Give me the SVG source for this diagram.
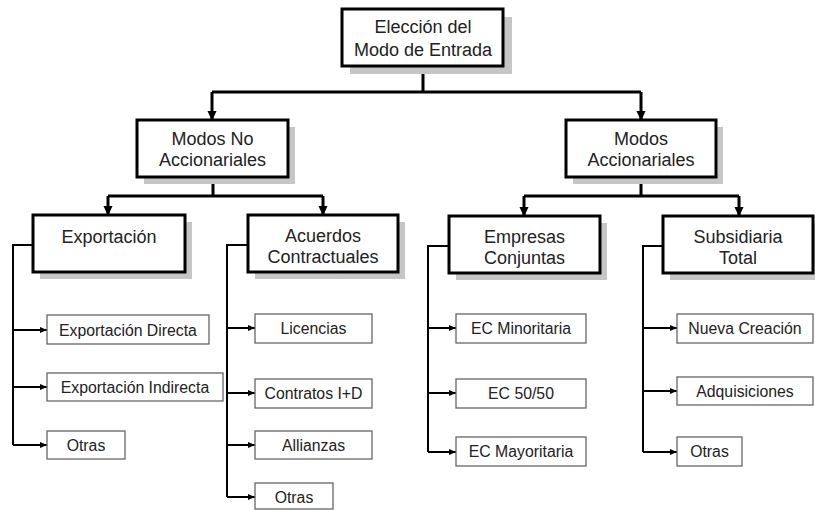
<svg xmlns="http://www.w3.org/2000/svg" width="815" height="510" viewBox="0 0 815 510">
<defs>
<style>
.bx{fill:#fff;stroke:#000;stroke-width:3}
.sh{fill:#c6c6c6}
.lf{fill:#fff;stroke:#666;stroke-width:1.3}
.t{font-family:"Liberation Sans",Arial,sans-serif;font-size:18px;fill:#222;text-anchor:middle}
.tl{font-family:"Liberation Sans",Arial,sans-serif;font-size:15.8px;fill:#222;text-anchor:middle}
.c{fill:none;stroke:#000;stroke-width:3}
.ca{fill:none;stroke:#000;stroke-width:3;marker-end:url(#ab)}
.cs{fill:none;stroke:#000;stroke-width:2}
.cl{fill:none;stroke:#000;stroke-width:2;marker-end:url(#as)}
</style>
<marker id="ab" markerUnits="userSpaceOnUse" markerWidth="10" markerHeight="10" refX="9" refY="5" orient="auto" viewBox="0 0 10 10"><path d="M0,0.5 L10,5 L0,9.5 z" fill="#000"/></marker>
<marker id="as" markerUnits="userSpaceOnUse" markerWidth="7" markerHeight="7" refX="7" refY="3.5" orient="auto" viewBox="0 0 7 7"><path d="M0,0.5 L7,3.5 L0,6.5 z" fill="#000"/></marker>
</defs>
<rect width="815" height="510" fill="#fff"/>

<g id="connectors">
<path class="c" d="M423,66 V92 M212,92 H641"/>
<path class="ca" d="M212,92 V120"/>
<path class="ca" d="M641,92 V120"/>
<path class="c" d="M213,177 V196 M108,196 H323"/>
<path class="ca" d="M108,196 V215"/>
<path class="ca" d="M323,196 V215"/>
<path class="c" d="M641,177 V196 M524,196 H739"/>
<path class="ca" d="M524,196 V216"/>
<path class="ca" d="M739,196 V216"/>
<path class="cs" d="M33,245 H13 V445"/>
<path class="cl" d="M13,330 H47"/>
<path class="cl" d="M13,387 H47"/>
<path class="cl" d="M13,445 H47"/>
<path class="cs" d="M248,245 H227 V497"/>
<path class="cl" d="M227,328 H255"/>
<path class="cl" d="M227,393 H255"/>
<path class="cl" d="M227,445 H255"/>
<path class="cl" d="M227,497 H255"/>
<path class="cs" d="M449,246 H428 V452"/>
<path class="cl" d="M428,328 H456"/>
<path class="cl" d="M428,393 H456"/>
<path class="cl" d="M428,452 H456"/>
<path class="cs" d="M663,246 H643 V452"/>
<path class="cl" d="M643,328 H677"/>
<path class="cl" d="M643,391 H677"/>
<path class="cl" d="M643,452 H677"/>
</g>

<g id="root">
<rect class="sh" x="350" y="17" width="162" height="57"/>
<rect class="bx" x="342" y="9" width="161" height="57"/>
<text class="t" x="423" y="33">Elección del</text>
<text class="t" x="423" y="56">Modo de Entrada</text>
</g>

<g id="no-accionariales">
<rect class="sh" x="144" y="127" width="151" height="57"/>
<rect class="bx" x="137" y="120" width="151" height="57"/>
<text class="t" x="212.5" y="145">Modos No</text>
<text class="t" x="212.5" y="166">Accionariales</text>
</g>

<g id="accionariales">
<rect class="sh" x="573" y="127" width="150" height="57"/>
<rect class="bx" x="566" y="120" width="150" height="57"/>
<text class="t" x="641" y="145">Modos</text>
<text class="t" x="641" y="166">Accionariales</text>
</g>

<g id="exportacion">
<rect class="sh" x="40" y="222" width="152" height="57"/>
<rect class="bx" x="33" y="215" width="152" height="57"/>
<text class="t" x="109" y="243">Exportación</text>
</g>

<g id="acuerdos">
<rect class="sh" x="255" y="222" width="150" height="57"/>
<rect class="bx" x="248" y="215" width="150" height="57"/>
<text class="t" x="323" y="242">Acuerdos</text>
<text class="t" x="323" y="263">Contractuales</text>
</g>

<g id="empresas">
<rect class="sh" x="456" y="223" width="151" height="57"/>
<rect class="bx" x="449" y="216" width="151" height="57"/>
<text class="t" x="524.5" y="243">Empresas</text>
<text class="t" x="524.5" y="264">Conjuntas</text>
</g>

<g id="subsidiaria">
<rect class="sh" x="670" y="223" width="150" height="57"/>
<rect class="bx" x="663" y="216" width="150" height="57"/>
<text class="t" x="738" y="243">Subsidiaria</text>
<text class="t" x="738" y="264">Total</text>
</g>

<g id="exp-directa"><rect class="lf" x="47" y="315" width="162" height="29"/><text class="tl" x="128" y="335.5">Exportación Directa</text></g>
<g id="exp-indirecta"><rect class="lf" x="47" y="373" width="176" height="28"/><text class="tl" x="135" y="392.5">Exportación Indirecta</text></g>
<g id="exp-otras"><rect class="lf" x="47" y="431" width="78" height="28"/><text class="tl" x="86" y="450.5">Otras</text></g>

<g id="licencias"><rect class="lf" x="255" y="314" width="117" height="29"/><text class="tl" x="313.5" y="334">Licencias</text></g>
<g id="contratos"><rect class="lf" x="255" y="379" width="117" height="29"/><text class="tl" x="313.5" y="399">Contratos I+D</text></g>
<g id="allianzas"><rect class="lf" x="255" y="431" width="117" height="28"/><text class="tl" x="313.5" y="450.5">Allianzas</text></g>
<g id="acu-otras"><rect class="lf" x="255" y="483" width="78" height="26"/><text class="tl" x="294" y="502.5">Otras</text></g>

<g id="ec-minoritaria"><rect class="lf" x="456" y="314" width="130" height="29"/><text class="tl" x="521" y="334">EC Minoritaria</text></g>
<g id="ec-5050"><rect class="lf" x="456" y="379" width="130" height="29"/><text class="tl" x="521" y="399">EC 50/50</text></g>
<g id="ec-mayoritaria"><rect class="lf" x="456" y="437" width="130" height="29"/><text class="tl" x="521" y="457">EC Mayoritaria</text></g>

<g id="nueva-creacion"><rect class="lf" x="677" y="314" width="136" height="29"/><text class="tl" x="745" y="334">Nueva Creación</text></g>
<g id="adquisiciones"><rect class="lf" x="677" y="377" width="136" height="28"/><text class="tl" x="745" y="396.5">Adquisiciones</text></g>
<g id="sub-otras"><rect class="lf" x="677" y="437" width="65" height="29"/><text class="tl" x="709.5" y="457">Otras</text></g>
</svg>
